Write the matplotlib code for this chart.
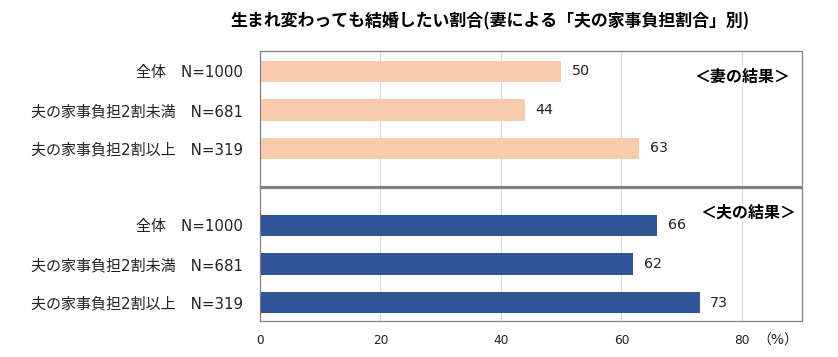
import matplotlib
matplotlib.use("Agg")
import matplotlib.pyplot as plt
import numpy as np

# 英数字は幅の広い DejaVu、和文は Noto CJK
plt.rcParams['font.family'] = ['DejaVu Sans', 'Noto Sans CJK JP']

# データ
title = "生まれ変わっても結婚したい割合(妻による「夫の家事負担割合」別)"
categories = ["全体　N=1000", "夫の家事負担2割未満　N=681", "夫の家事負担2割以上　N=319"]
wife_values = [50, 44, 63]
husband_values = [66, 62, 73]
xticks = [0, 20, 40, 60, 80]

wife_color = '#F8CBAD'
husband_color = '#2F5597'

fig = plt.figure(figsize=(8.38, 3.57), dpi=100)
ax = fig.add_axes([260 / 838, 1 - 321 / 357, 542 / 838, 270 / 357])

# 妻は上段(0,1,2)、夫は下段(4,5,6)
wife_pos = np.arange(len(categories))
husband_pos = wife_pos + len(categories) + 1
bar_h = 0.55

ax.barh(wife_pos, wife_values, height=bar_h, color=wife_color, zorder=2)
ax.barh(husband_pos, husband_values, height=bar_h, color=husband_color, zorder=2)

# 数値ラベル
for pos, val in list(zip(wife_pos, wife_values)) + list(zip(husband_pos, husband_values)):
    ax.annotate(f'{val}', xy=(val, pos), xytext=(7.5, 0), textcoords='offset points',
                ha='left', va='center', fontsize=10.3, color='#222222')

# 区切り線
ax.axhline(len(categories), color='#808080', lw=2.3, zorder=3)

ax.set_xlim(0, 90)
ax.set_ylim(6.48, -0.53)
ax.set_xticks(xticks)
ax.set_yticks(list(wife_pos) + list(husband_pos))
ax.set_yticklabels(categories + categories)
ax.tick_params(axis='y', length=0, pad=12, labelsize=10.8, labelcolor='#222222')
ax.tick_params(axis='x', length=0, pad=9.5, labelsize=8.7, labelcolor='#222222')
ax.grid(axis='x', color='#D9D9D9', lw=0.8, zorder=0)
ax.set_axisbelow(True)
for s in ax.spines.values():
    s.set_color('#808080')
    s.set_linewidth(0.9)

ax.text(86, -20 / 270, '（%）', transform=ax.get_xaxis_transform(),
        ha='center', va='center', fontsize=10, color='#222222')

# 区分ラベル
box = dict(facecolor='white', edgecolor='none', pad=1)
ax.text(88.0, 0.13, '＜妻の結果＞', ha='right', va='center', fontsize=11.5,
        fontweight='bold', bbox=box, zorder=4, family=['Noto Sans CJK JP'])
ax.text(89.0, 3.67, '＜夫の結果＞', ha='right', va='center', fontsize=11.5,
        fontweight='bold', bbox=box, zorder=4, family=['Noto Sans CJK JP'])

fig.text(490 / 838, 1 - 21 / 357, title, ha='center', va='center',
         fontsize=12.2, fontweight='bold', family=['Noto Sans CJK JP'])

fig.savefig('out.png', dpi=100)
